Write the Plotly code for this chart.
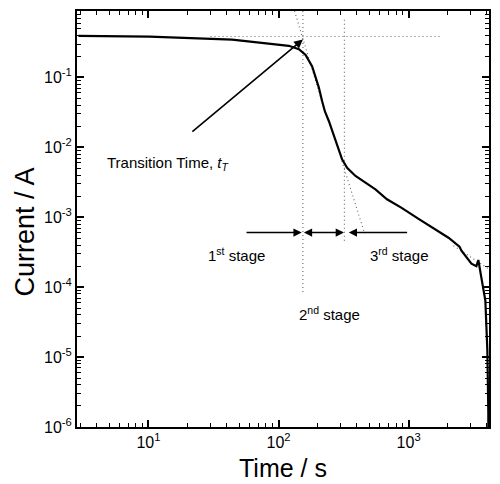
import plotly.graph_objects as go
import math

# Current transient
time_s = [2.9, 10.2, 44, 84.5, 120, 143.5, 161.5, 181.4, 204, 216.5, 227, 244, 274,
          308, 336.7, 390.6, 466, 556, 682, 884, 1193, 1501, 2026, 2461, 2548, 3040,
          3319, 3436, 3563, 3625, 3890, 3960, 4030, 4100, 4110]
current_A = [0.393, 0.384, 0.348, 0.302, 0.283, 0.253, 0.210, 0.1436, 0.0721, 0.0455,
             0.0328, 0.0236, 0.01225, 0.00673, 0.0051, 0.00389, 0.00312, 0.00251,
             0.00181, 0.00136, 0.000948, 0.00073, 0.000509, 0.000380, 0.000332,
             0.000217, 0.000200, 0.000245, 0.000150, 0.000137, 6.44e-5, 2.18e-5,
             1.25e-5, 1.6e-6, 1e-7]

# Construction (dotted) lines
plateau_t = [30, 1824]
plateau_I = [0.384, 0.384]
tangent_t = [132.8, 227]
tangent_I = [0.89, 0.0328]
tr_vline_t = [154, 154]
tr_vline_I = [0.89, 8.1e-5]
s3_vline_t = [321, 321]
s3_vline_I = [0.67, 4.3e-4]
knee_t = [307, 460]
knee_I = [0.00635, 5.8e-4]
tail_t = [2213, 4100]
tail_I = [3.92e-4, 1.84e-4]

# Stage arrows (time values)
stage_arrow_I = 6.05e-4
stage1 = (55.3, 150.7)
stage2 = (156.7, 327)
stage3 = (1000, 346.7)

# Tick labels
x_tickvals = [10, 100, 1000]
x_ticktext = ["10<sup>1</sup>", "10<sup>2</sup>", "10<sup>3</sup>"]
y_tickvals = [1e-6, 1e-5, 1e-4, 1e-3, 1e-2, 1e-1]
y_ticktext = ["10<sup>-6</sup>", "10<sup>-5</sup>", "10<sup>-4</sup>",
              "10<sup>-3</sup>", "10<sup>-2</sup>", "10<sup>-1</sup>"]

x_minor = [m * 10 ** e for e in range(0, 4) for m in range(2, 10)]
y_minor = [m * 10.0 ** e for e in range(-6, 0) for m in range(2, 10)]

X_RANGE = [0.451, 3.618]
Y_RANGE = [-6, -0.05]

fig = go.Figure()
dot = dict(color="#666666", width=1.1, dash="1px,3px")
for tx, iy in [(plateau_t, plateau_I), (tangent_t, tangent_I), (tr_vline_t, tr_vline_I),
               (s3_vline_t, s3_vline_I), (knee_t, knee_I), (tail_t, tail_I)]:
    fig.add_trace(go.Scatter(x=tx, y=iy, mode="lines", line=dot, showlegend=False,
                             hoverinfo="skip"))

fig.add_trace(go.Scatter(x=time_s, y=current_A, mode="lines",
                         line=dict(color="black", width=2.2), showlegend=False))

fig.add_trace(go.Scatter(x=[time_s[1]], y=[current_A[1]], xaxis="x2", yaxis="y2",
                         mode="markers", marker=dict(opacity=0), showlegend=False,
                         hoverinfo="skip"))

L = math.log10
anns = []
anns.append(dict(x=L(154), y=L(0.35), ax=L(21.2), ay=L(0.0161), xref="x", yref="y",
                 axref="x", ayref="y", showarrow=True, arrowhead=2, arrowsize=1.1,
                 arrowwidth=1.6, arrowcolor="black", text=""))
anns.append(dict(x=L(stage1[1]), y=L(stage_arrow_I), ax=L(stage1[0]), ay=L(stage_arrow_I),
                 xref="x", yref="y", axref="x", ayref="y", showarrow=True, arrowhead=2,
                 arrowsize=1.1, arrowwidth=1.5, arrowcolor="black", text=""))
anns.append(dict(x=L(stage2[0]), y=L(stage_arrow_I), ax=L(stage2[1]), ay=L(stage_arrow_I),
                 xref="x", yref="y", axref="x", ayref="y", showarrow=True, arrowhead=2,
                 startarrowhead=2, arrowside="end+start", arrowsize=1.1, startarrowsize=1.1,
                 arrowwidth=1.5, arrowcolor="black", text=""))
anns.append(dict(x=L(stage3[1]), y=L(stage_arrow_I), ax=L(stage3[0]), ay=L(stage_arrow_I),
                 xref="x", yref="y", axref="x", ayref="y", showarrow=True, arrowhead=2,
                 arrowsize=1.1, arrowwidth=1.5, arrowcolor="black", text=""))

FF = "Liberation Sans, Arial, sans-serif"
tf = dict(family=FF, size=15, color="black")
anns.append(dict(x=L(14.2), y=L(0.00596), xref="x", yref="y", showarrow=False,
                 text="Transition Time, <i>t</i><sub><i>T</i></sub>", font=tf))
anns.append(dict(x=L(47.6), y=L(2.91e-4), xref="x", yref="y", showarrow=False,
                 text="1<sup>st</sup> stage", font=tf))
anns.append(dict(x=L(248), y=L(4.2e-5), xref="x", yref="y", showarrow=False,
                 text="2<sup>nd</sup> stage", font=tf))
anns.append(dict(x=L(853), y=L(2.91e-4), xref="x", yref="y", showarrow=False,
                 text="3<sup>rd</sup> stage", font=tf))
anns.append(dict(x=0.5, y=-0.098, xref="paper", yref="paper", showarrow=False,
                 xanchor="center", yanchor="middle",
                 text="Time / s", font=dict(family=FF, size=25, color="black")))
anns.append(dict(x=-0.127, y=0.469, xref="paper", yref="paper", showarrow=False,
                 xanchor="center", yanchor="middle",
                 textangle=-90, text="Current / A",
                 font=dict(family=FF, size=27, color="black")))

axis_common = dict(type="log", showgrid=False, zeroline=False, showline=True,
                   linecolor="black", linewidth=2, mirror="allticks", ticks="inside",
                   ticklen=7, tickwidth=1.5, tickcolor="#000000", layer="above traces",
                   tickfont=dict(family=FF, size=16, color="black"))
minor_common = dict(type="log", showgrid=False, zeroline=False, showline=False,
                    mirror="allticks", ticks="inside", ticklen=4, tickwidth=1.2,
                    tickcolor="#000000", showticklabels=False, layer="above traces")

fig.update_layout(
    width=500, height=484,
    margin=dict(l=77, r=9, t=9, b=57),
    paper_bgcolor="white", plot_bgcolor="rgba(0,0,0,0)",
    xaxis=dict(range=X_RANGE, tickmode="array", tickvals=x_tickvals, ticktext=x_ticktext,
               **axis_common),
    yaxis=dict(range=Y_RANGE, tickmode="array", tickvals=y_tickvals, ticktext=y_ticktext,
               **axis_common),
    xaxis2=dict(range=X_RANGE, tickmode="array", tickvals=x_minor, overlaying="x",
                anchor="y2", side="bottom", **minor_common),
    yaxis2=dict(range=Y_RANGE, tickmode="array", tickvals=y_minor, overlaying="y",
                anchor="x2", side="left", **minor_common),
    annotations=anns,
)

fig.write_html("out.html")
